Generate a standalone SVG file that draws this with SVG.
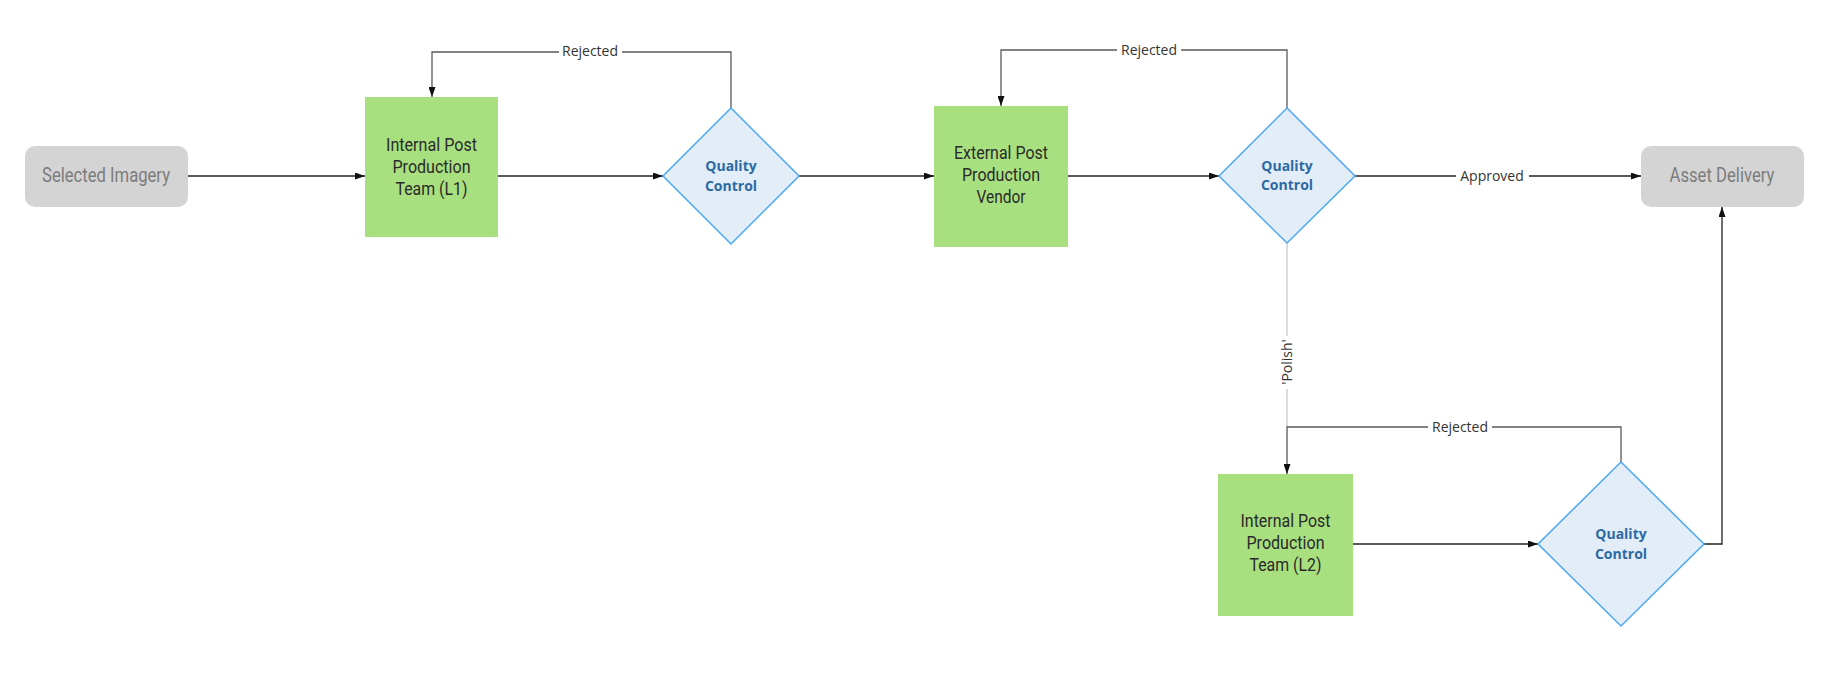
<svg xmlns="http://www.w3.org/2000/svg" width="1842" height="673" viewBox="0 0 1842 673">
<style>
.term{fill:#d4d4d4}
.termtxt{font-family:Roboto,"Liberation Sans",sans-serif;font-size:20px;fill:#7c7c7c;text-anchor:middle}
.proc{fill:#a9e07f}
.proctxt{font-family:Roboto,"Liberation Sans",sans-serif;font-size:18px;fill:#2a2a2a;text-anchor:middle}
.dec{fill:#e2edf7;stroke:#4aa9f2;stroke-width:1.5}
.dectxt{font-family:"Open Sans","Liberation Sans",sans-serif;font-size:14px;font-weight:bold;fill:#2d6aa5;text-anchor:middle}
.lbl{font-family:"Open Sans","Liberation Sans",sans-serif;font-size:14px;fill:#333;text-anchor:middle}
.main{fill:none;stroke:#222;stroke-width:1.3}
.rej{fill:none;stroke:#5a5a5a;stroke-width:1.3}
.pol{fill:none;stroke:#c8c8c8;stroke-width:1.3}
</style>
<defs>
<marker id="arr" viewBox="0 0 10 7" refX="10" refY="3.5" markerWidth="10" markerHeight="7" markerUnits="userSpaceOnUse" orient="auto">
<path d="M0,0 L10,3.5 L0,7 z" fill="#111"/>
</marker>
</defs>
<rect width="1842" height="673" fill="#fff"/>
<g id="connectors">
<path class="main" d="M188,176 H365" marker-end="url(#arr)"/>
<path class="main" d="M498,176 H663" marker-end="url(#arr)"/>
<path class="main" d="M799,176 H934" marker-end="url(#arr)"/>
<path class="main" d="M1068,176 H1219" marker-end="url(#arr)"/>
<path class="main" d="M1355,176 H1456"/>
<path class="main" d="M1529,176 H1641" marker-end="url(#arr)"/>
<text class="lbl" x="1492" y="181">Approved</text>
<path class="rej" d="M731,108 V52 H622"/>
<path class="rej" d="M559,52 H432 V97" marker-end="url(#arr)"/>
<text class="lbl" x="590" y="56">Rejected</text>
<path class="rej" d="M1287,108 V50 H1181"/>
<path class="rej" d="M1117,50 H1001 V106" marker-end="url(#arr)"/>
<text class="lbl" x="1149" y="55">Rejected</text>
<path class="pol" d="M1287,243 V336"/>
<path class="pol" d="M1287,389 V427"/>
<text class="lbl" transform="translate(1292,362) rotate(-90)">'Polish'</text>
<path class="rej" d="M1621,462 V427 H1492"/>
<path class="rej" d="M1428,427 H1287 V474" marker-end="url(#arr)"/>
<text class="lbl" x="1460" y="432">Rejected</text>
<path class="main" d="M1353,544 H1538" marker-end="url(#arr)"/>
<path class="main" d="M1704,544 H1722 V207" marker-end="url(#arr)"/>
</g>
<g id="selected-imagery">
<rect class="term" x="25" y="146" width="163" height="61" rx="10"/>
<text class="termtxt" x="106" y="182" textLength="128" lengthAdjust="spacingAndGlyphs">Selected Imagery</text>
</g>
<g id="internal-l1">
<rect class="proc" x="365" y="97" width="133" height="140"/>
<text class="proctxt" x="431.5" y="151" textLength="91" lengthAdjust="spacingAndGlyphs">Internal Post</text>
<text class="proctxt" x="431.5" y="173" textLength="78" lengthAdjust="spacingAndGlyphs">Production</text>
<text class="proctxt" x="431.5" y="195" textLength="72" lengthAdjust="spacingAndGlyphs">Team (L1)</text>
</g>
<g id="qc1">
<polygon class="dec" points="731,108 799,176 731,244 663,176"/>
<text class="dectxt" x="731" y="171">Quality</text>
<text class="dectxt" x="731" y="191">Control</text>
</g>
<g id="external-vendor">
<rect class="proc" x="934" y="106" width="134" height="141"/>
<text class="proctxt" x="1001" y="159" textLength="94" lengthAdjust="spacingAndGlyphs">External Post</text>
<text class="proctxt" x="1001" y="181" textLength="78" lengthAdjust="spacingAndGlyphs">Production</text>
<text class="proctxt" x="1001" y="203" textLength="49" lengthAdjust="spacingAndGlyphs">Vendor</text>
</g>
<g id="qc2">
<polygon class="dec" points="1287,108 1355,176 1287,243 1219,176"/>
<text class="dectxt" x="1287" y="171">Quality</text>
<text class="dectxt" x="1287" y="190">Control</text>
</g>
<g id="asset-delivery">
<rect class="term" x="1641" y="146" width="163" height="61" rx="10"/>
<text class="termtxt" x="1722" y="182" textLength="105" lengthAdjust="spacingAndGlyphs">Asset Delivery</text>
</g>
<g id="internal-l2">
<rect class="proc" x="1218" y="474" width="135" height="142"/>
<text class="proctxt" x="1285.5" y="527" textLength="90" lengthAdjust="spacingAndGlyphs">Internal Post</text>
<text class="proctxt" x="1285.5" y="549" textLength="78" lengthAdjust="spacingAndGlyphs">Production</text>
<text class="proctxt" x="1285.5" y="571" textLength="72" lengthAdjust="spacingAndGlyphs">Team (L2)</text>
</g>
<g id="qc3">
<polygon class="dec" points="1621,462 1704,544 1621,626 1538,544"/>
<text class="dectxt" x="1621" y="539">Quality</text>
<text class="dectxt" x="1621" y="559">Control</text>
</g>
</svg>
